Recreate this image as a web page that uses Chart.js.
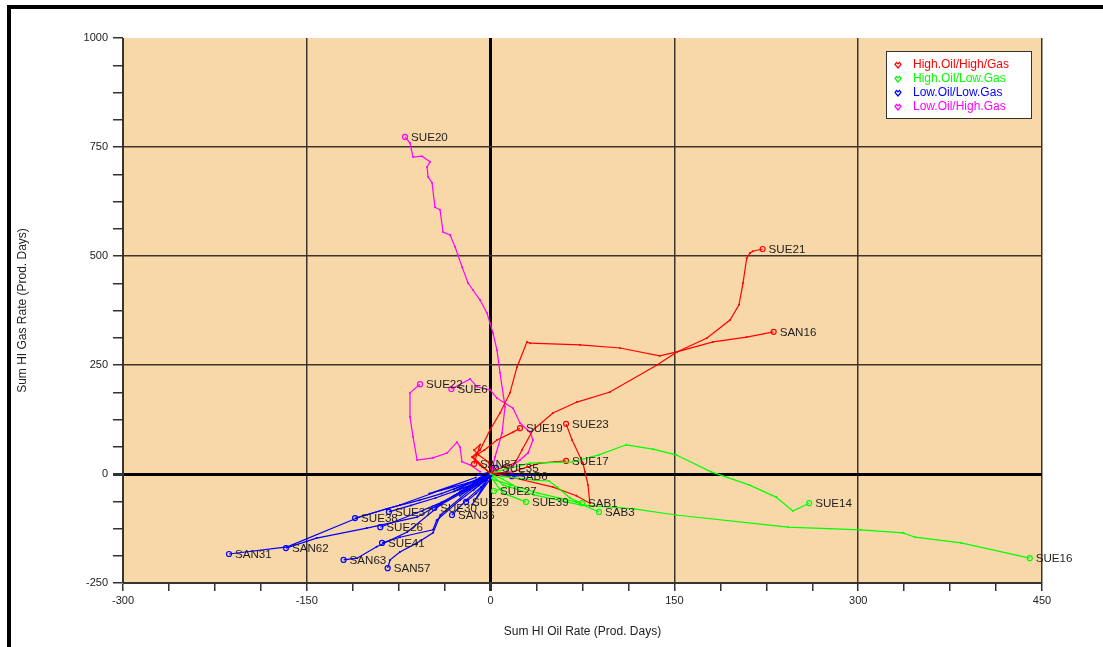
<!DOCTYPE html>
<html>
<head>
<meta charset="utf-8">
<title>Sum HI Gas Rate vs Sum HI Oil Rate</title>
<style>
  html, body { margin: 0; padding: 0; background: #ffffff; }
  #wrap { position: relative; width: 1103px; height: 647px; overflow: hidden; }
  #frame { position: absolute; left: 7px; top: 5px; width: 1200px; height: 800px;
           border-left: 4px solid #000; border-top: 4px solid #000; pointer-events: none; }
  canvas { position: absolute; left: 0; top: 0; }
</style>
<script src="https://cdn.jsdelivr.net/npm/chart.js@4.4.1/dist/chart.umd.min.js"></script>
</head>
<body>
<div id="wrap">
  <canvas id="chart" width="1103" height="647"></canvas>
  <div id="frame"></div>
</div>
<script>
// Well groups
const categories = ['High.Oil/High/Gas', 'High.Oil/Low.Gas', 'Low.Oil/Low.Gas', 'Low.Oil/High.Gas'];

// Axis tick labels
const xTickLabels = [-300, -150, 0, 150, 300, 450];
const yTickLabels = [-250, 0, 250, 500, 750, 1000];

// Well trajectories: [Sum HI Oil Rate, Sum HI Gas Rate] per step, last point = current
// High oil / high gas
const SUE21 = [[0,0],[3.6,9],[19.9,25],[25.6,55],[34.6,101],[50.9,140],[70.5,165],[97.4,188],[135.8,250],[152,280],[176.6,312],[195.4,353],[202.7,388],[206,438],[209,495],[211.7,507],[214,511],[222,516]];
const SAN16 = [[0,2],[-8.6,20],[-15.2,39],[-8.6,55],[-0.5,101],[7.7,140],[15.8,186],[21.5,245],[29.7,303],[32.2,300],[73,296],[105.6,289],[138,271],[152,280],[181.5,303],[209,314],[231,326]];
const SUE19 = [[0,0],[-14.4,39],[-5,55],[5.2,78],[18.3,96],[24,105]];
const SUE23 = [[2,1],[18,-8],[51,-30],[70,-50],[81,-67],[79.5,-25],[77,5],[75.4,25],[66.5,78],[61.6,115]];
const SUE17 = [[3.6,2],[18.3,5],[29.7,16],[40.3,25],[52.6,28],[61.6,30]];
const SAN87 = [[1.1,5],[-2,28],[-10,44],[-13.5,55],[-8.6,67],[-12.7,32],[-13.5,23]];
// High oil / low gas
const SUE14 = [[3.6,5],[32.2,25],[66.5,28],[88.5,44],[110.6,67],[132.6,57],[151.3,44],[180,5],[211,-25],[233,-53],[246.7,-85],[260,-67]];
const SUE16 = [[2,-5],[10.1,-25],[35.4,-48],[73,-71],[117,-80],[151.3,-94],[242.7,-122],[302,-128],[336.6,-135],[346.4,-145],[384,-158],[440,-193]];
const SAB3 = [[3.6,-14],[38.7,-44],[69.7,-64],[88.5,-87]];
const SAB1 = [[7.7,-5],[35.4,-14],[47.7,-16],[54.2,-30],[64.8,-55],[74.6,-67]];
const SUE39 = [[1,-10],[10.1,-44],[28.9,-64]];
const SUE27 = [[0,0],[10,-12],[18,-25],[8,-35],[2.8,-39]];
// Low oil / low gas
const SAN31 = [[0,0],[-11,-14],[-4,-6],[-40,-45],[-58,-60],[-85,-80],[-109,-101],[-166,-167],[-213.5,-183.5]];
const SAN62 = [[0,0],[-19,-37],[-6,-10],[-60,-99],[-101,-124],[-142,-147],[-167,-170]];
const SUE38 = [[0,-3],[-19,-21],[-50,-45],[-12,-8],[-74,-71],[-110.6,-101]];
const SUE37 = [[0,-2],[-30,-35],[-8,-12],[-20,-30],[-45,-55],[-65,-72],[-83,-87]];
const SUE26 = [[-2,-5],[-14,-37],[-3,-12],[-40,-65],[-60,-89],[-90,-122]];
const SUE41 = [[-2,-3],[-10,-20],[-4,-14],[-25,-60],[-44,-106],[-47,-128],[-74,-145],[-88.6,-158]];
const SAN63 = [[0,-2],[-9,-9],[-30,-40],[-6,-16],[-41,-71],[-68,-133],[-93,-167],[-109,-193],[-120,-197]];
const SAN57 = [[1,-3],[-17,-37],[-41,-94],[-47,-135],[-60,-158],[-74,-179],[-82,-197],[-84,-216]];
const SUE30 = [[0,0],[-25,-50],[-5,-10],[-15,-25],[-30,-50],[-46,-78]];
const SAN36 = [[2,-2],[-15,-70],[-3,-15],[-8,-30],[-20,-60],[-31.5,-94]];
const SUE29 = [[3,-1],[-25,-40],[-2,-8],[-5,-25],[-12,-45],[-20,-64]];
const SUE35 = [[-5,-8],[-10,-2],[2,6],[4.4,14]];
const SAB6 = [[0,0],[20,-3],[35,-2],[17.5,-5]];
// Low oil / high gas
const SUE20 = [[1.1,9],[3.6,39],[9.3,94],[11.8,154],[7.7,232],[5.2,284],[2,323],[-0.5,346],[-2.9,369],[-8.6,399],[-14.4,422],[-18.4,438],[-23.3,475],[-26.6,502],[-29,521],[-33.1,548],[-38.8,555],[-41.3,606],[-45.4,612],[-47.8,668],[-51,681],[-51.9,704],[-49.4,716],[-56,729],[-63.3,727],[-65.8,759],[-69.8,773]];
const SUE22 = [[-8.6,5],[-16.8,21],[-23.3,28],[-25,62],[-27.4,73],[-35.6,48],[-47,37],[-60,32],[-63.3,85],[-65.8,131],[-65.8,186],[-57.6,206]];
const SUE6 = [[13.4,9],[24,32],[30.5,48],[34.6,78],[32.2,96],[24,117],[18.3,151],[5.2,174],[-0.5,193],[-11.1,200],[-16.8,218],[-32,195]];

// Wells in drawing order (later ones on top)
const wells = [
  ['SUE14', 1, SUE14], ['SUE16', 1, SUE16], ['SAB3', 1, SAB3], ['SAB1', 1, SAB1], ['SUE39', 1, SUE39], ['SUE27', 1, SUE27],
  ['SUE21', 0, SUE21], ['SAN16', 0, SAN16], ['SUE19', 0, SUE19], ['SUE23', 0, SUE23], ['SUE17', 0, SUE17], ['SAN87', 0, SAN87],
  ['SUE20', 3, SUE20], ['SUE22', 3, SUE22], ['SUE6', 3, SUE6],
  ['SAN31', 2, SAN31], ['SAN62', 2, SAN62], ['SUE38', 2, SUE38], ['SUE37', 2, SUE37], ['SUE26', 2, SUE26], ['SUE41', 2, SUE41],
  ['SAN63', 2, SAN63], ['SAN57', 2, SAN57], ['SUE30', 2, SUE30], ['SAN36', 2, SAN36], ['SUE29', 2, SUE29], ['SUE35', 2, SUE35], ['SAB6', 2, SAB6]
];

const groupColors = ['#ff0000', '#00ff00', '#0000ff', '#ff00ff'];
const FONT = 'Liberation Sans, Arial, sans-serif';

const datasets = wells.map(([name, cat, pts]) => ({
  label: name,
  data: pts.map(p => ({ x: p[0], y: p[1] })),
  showLine: true,
  borderColor: groupColors[cat],
  borderWidth: 1.2,
  tension: 0,
  pointRadius: ctx => ctx.dataIndex === pts.length - 1 ? 2.5 : 1,
  pointBorderWidth: ctx => ctx.dataIndex === pts.length - 1 ? 1.2 : 0,
  pointBorderColor: groupColors[cat],
  pointBackgroundColor: ctx => ctx.dataIndex === pts.length - 1 ? 'rgba(0,0,0,0)' : groupColors[cat],
  pointHoverRadius: 3
}));

// Plot-area fill
const plotBackground = {
  id: 'plotBackground',
  beforeDraw(chart) {
    const { ctx, chartArea: a } = chart;
    ctx.save();
    ctx.fillStyle = '#f8d7a9';
    ctx.fillRect(a.left, a.top, a.right - a.left, a.bottom - a.top);
    ctx.restore();
  }
};

// Well names next to each current point
const wellLabels = {
  id: 'wellLabels',
  afterDatasetsDraw(chart) {
    const ctx = chart.ctx;
    ctx.save();
    ctx.font = '11.6px ' + FONT;
    ctx.fillStyle = '#1e1e1e';
    ctx.textAlign = 'left';
    ctx.textBaseline = 'middle';
    chart.data.datasets.forEach((ds, i) => {
      const meta = chart.getDatasetMeta(i);
      const pt = meta.data[meta.data.length - 1];
      ctx.fillText(ds.label, pt.x + 6, pt.y + 1);
    });
    ctx.restore();
  }
};

// Group legend box in the upper right of the plot
const groupLegend = {
  id: 'groupLegend',
  afterDraw(chart) {
    const ctx = chart.ctx;
    const a = chart.chartArea;
    const left = a.right - 156, top = a.top + 13, w = 145, h = 67;
    ctx.save();
    ctx.fillStyle = '#ffffff';
    ctx.fillRect(left, top, w, h);
    ctx.strokeStyle = '#333333';
    ctx.lineWidth = 1;
    ctx.strokeRect(left + 0.5, top + 0.5, w, h);
    ctx.font = '12px ' + FONT;
    ctx.textBaseline = 'middle';
    categories.forEach((c, i) => {
      const y = top + 14 + i * 14;
      const mx = left + 12;
      ctx.strokeStyle = groupColors[i];
      ctx.fillStyle = groupColors[i];
      ctx.lineWidth = 1.2;
      ctx.beginPath();
      ctx.moveTo(mx, y + 3);
      ctx.lineTo(mx - 3, y - 0.5);
      ctx.lineTo(mx - 1.5, y - 2.5);
      ctx.lineTo(mx, y - 1);
      ctx.lineTo(mx + 1.5, y - 2.5);
      ctx.lineTo(mx + 3, y - 0.5);
      ctx.closePath();
      ctx.stroke();
      ctx.fillText(c, left + 27, y);
    });
    ctx.restore();
  }
};

const isMajor = (v, step) => Math.abs(v / step - Math.round(v / step)) < 1e-6;

new Chart(document.getElementById('chart'), {
  type: 'scatter',
  data: { datasets },
  plugins: [plotBackground, wellLabels, groupLegend],
  options: {
    responsive: false,
    animation: false,
    layout: { padding: { left: 0, top: 38, right: 61, bottom: 0 } },
    plugins: { legend: { display: false }, tooltip: { enabled: false } },
    scales: {
      x: {
        type: 'linear',
        min: xTickLabels[0],
        max: xTickLabels[xTickLabels.length - 1],
        afterFit: s => { s.height = 64; },
        ticks: {
          stepSize: 37.5,
          autoSkip: false,
          maxRotation: 0,
          padding: 3,
          color: '#222222',
          font: { family: FONT, size: 11 },
          callback: v => xTickLabels.includes(v) ? String(v) : ''
        },
        grid: {
          drawOnChartArea: true,
          tickLength: 8,
          tickColor: '#333333',
          color: c => {
            const v = c.tick ? c.tick.value : NaN;
            if (v === 0) return '#000000';
            return isMajor(v, 150) ? '#3d362c' : 'rgba(0,0,0,0)';
          },
          lineWidth: c => (c.tick && c.tick.value === 0) ? 3 : 1.5
        },
        border: { display: true, color: '#333333', width: 1 },
        title: {
          display: true,
          text: 'Sum HI Oil Rate (Prod. Days)',
          color: '#222222',
          font: { family: FONT, size: 12 },
          padding: { top: 0, bottom: 8 }
        }
      },
      y: {
        type: 'linear',
        min: yTickLabels[0],
        max: yTickLabels[yTickLabels.length - 1],
        afterFit: s => { s.width = 123; },
        ticks: {
          stepSize: 62.5,
          autoSkip: false,
          padding: 5,
          color: '#222222',
          font: { family: FONT, size: 11 },
          callback: v => yTickLabels.includes(v) ? String(v) : ''
        },
        grid: {
          drawOnChartArea: true,
          tickLength: 10,
          tickColor: '#333333',
          color: c => {
            const v = c.tick ? c.tick.value : NaN;
            if (v === 0) return '#000000';
            if (v === 1000) return 'rgba(0,0,0,0)';
            return isMajor(v, 250) ? '#3d362c' : 'rgba(0,0,0,0)';
          },
          lineWidth: c => (c.tick && c.tick.value === 0) ? 3 : 1.5
        },
        border: { display: true, color: '#333333', width: 1 },
        title: {
          display: true,
          text: 'Sum HI Gas Rate (Prod. Days)',
          color: '#222222',
          font: { family: FONT, size: 12 },
          padding: { top: 15, bottom: 0 }
        }
      }
    }
  }
});
</script>
</body>
</html>
